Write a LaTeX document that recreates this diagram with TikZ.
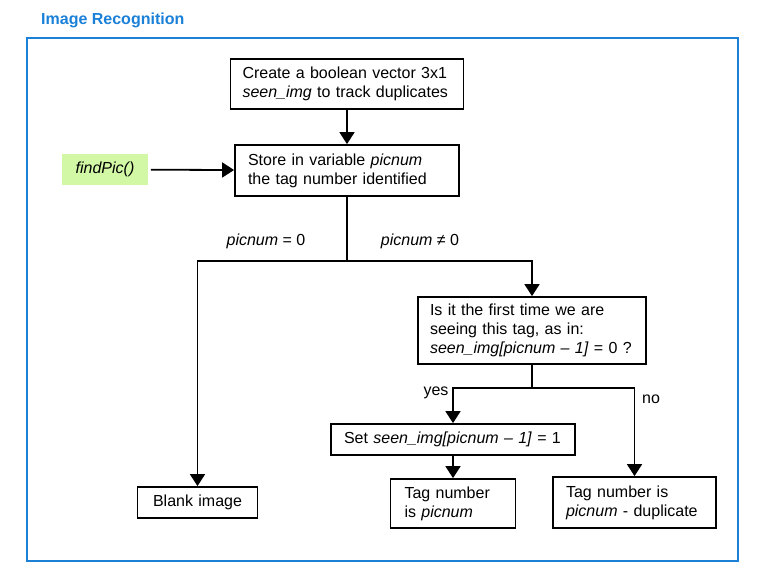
\documentclass[tikz,border=0pt]{standalone}
\usepackage{fontspec}
\setmainfont{Liberation Sans}
\usetikzlibrary{arrows.meta}
\definecolor{frameblue}{HTML}{1A80D8}
\definecolor{callgreen}{HTML}{D2F8A6}

\begin{document}
\begin{tikzpicture}[x=1pt,y=-1pt,->,>={Triangle[length=12pt,width=15pt]},
                    line width=1.8pt,font=\fontsize{16}{19}\selectfont]
  \tikzstyle{box}=[draw=black,align=left,inner ysep=0pt]
  \tikzstyle{lbl}=[inner sep=1pt]

  \useasboundingbox (0,0) rectangle (762,580);
  \draw[-,frameblue,line width=2.6pt] (27,38) rectangle (738,561);
  \node[anchor=west,text=frameblue,font=\fontsize{16}{19}\selectfont\bfseries] (title) at (37,20) {Image Recognition};

  \node[box,text width=209pt,inner xsep=12pt,minimum height=50pt] (create) at (347,84)
       {Create a boolean vector 3x1\\\textit{seen\_img} to track duplicates};
  \node[box,text width=198pt,inner xsep=13pt,minimum height=51pt] (store)  at (347,170.5)
       {Store in variable \textit{picnum}\\the tag number identified};
  \node[fill=callgreen,minimum width=86pt,minimum height=31pt] (findpic) at (105,169.5)
       {\textit{findPic()}};
  \node[box,text width=204pt,inner xsep=12pt,minimum height=67pt] (first)  at (532,330.5)
       {Is it the first time we are\\seeing this tag, as in:\\\textit{seen\_img[picnum – 1]} = 0 ?};
  \node[box,text width=218pt,inner xsep=13pt,minimum height=31pt] (set)    at (453,439.5)
       {Set \textit{seen\_img[picnum – 1]} = 1};
  \node[box,text width=97pt,inner xsep=14pt,minimum height=49pt]  (tag)    at (453,503.5)
       {Tag number\\is \textit{picnum}};
  \node[box,text width=137pt,inner xsep=13pt,minimum height=51pt] (dup)    at (634.5,502.5)
       {Tag number is\\\textit{picnum} - duplicate};
  \node[box,align=center,text width=96pt,inner xsep=12pt,minimum height=31pt] (blank) at (197.5,502.5)
       {Blank image};

  \coordinate (split)  at (347,261);
  \coordinate (branch) at (532,388);

  \node[lbl] (zero)    at (266,241) {\textit{picnum} = 0};
  \node[lbl] (nonzero) at (420,241) {\textit{picnum} ≠ 0};
  \node[lbl] (yes)     at (436,393) {yes};
  \node[lbl] (no)      at (651,399) {no};

  \path (create)  edge (store)
        (findpic) edge[shorten <=2pt] (store);
  \draw[-] (store) -- (split);
  \draw (split) -| (blank);
  \draw (split) -| (first);
  \draw[-] (first) -- (branch);
  \draw (branch) -| (set);
  \draw (branch) -| (dup);
  \draw (set) -- (tag);
\end{tikzpicture}
\end{document}
